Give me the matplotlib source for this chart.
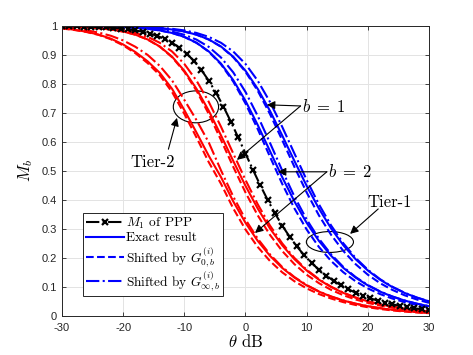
import numpy as np
import matplotlib
matplotlib.use('Agg')
import matplotlib.pyplot as plt
from matplotlib.patches import Ellipse

plt.rcParams['mathtext.fontset'] = 'cm'
plt.rcParams['font.family'] = ['Liberation Sans', 'DejaVu Sans']

# M_1 of PPP (black, markers every 1.2 dB)
theta_ppp = np.linspace(-30, 30, 51)
m1_ppp = [0.9990, 0.9987, 0.9983, 0.9977, 0.9970, 0.9960, 0.9948, 0.9931, 0.9910, 0.9882,
          0.9845, 0.9797, 0.9734, 0.9654, 0.9550, 0.9418, 0.9251, 0.9043, 0.8786, 0.8477,
          0.8111, 0.7690, 0.7217, 0.6701, 0.6157, 0.5601, 0.5048, 0.4514, 0.4010, 0.3543,
          0.3118, 0.2736, 0.2395, 0.2093, 0.1827, 0.1594, 0.1390, 0.1211, 0.1056, 0.0920,
          0.0801, 0.0698, 0.0608, 0.0529, 0.0461, 0.0402, 0.0350, 0.0305, 0.0265, 0.0231,
          0.0201]

# tier curves, every 2 dB
theta = np.arange(-30, 31, 2)

# Tier-1 (blue), b=1
t1b1_exact = [0.9998, 0.9997, 0.9995, 0.9993, 0.9988, 0.9981, 0.9969, 0.9950, 0.9922, 0.9876,
              0.9807, 0.9698, 0.9534, 0.9290, 0.8938, 0.8455, 0.7829, 0.7073, 0.6224, 0.5343,
              0.4487, 0.3704, 0.3018, 0.2437, 0.1957, 0.1567, 0.1250, 0.0997, 0.0794, 0.0631,
              0.0503]
t1b1_g0 = [0.9998, 0.9997, 0.9995, 0.9992, 0.9987, 0.9980, 0.9968, 0.9950, 0.9921, 0.9876,
           0.9806, 0.9697, 0.9530, 0.9282, 0.8921, 0.8420, 0.7764, 0.6963, 0.6065, 0.5140,
           0.4258, 0.3469, 0.2796, 0.2239, 0.1786, 0.1422, 0.1131, 0.0899, 0.0714, 0.0567,
           0.0451]
t1b1_ginf = [0.9998, 0.9997, 0.9996, 0.9994, 0.9990, 0.9984, 0.9975, 0.9960, 0.9937, 0.9901,
             0.9845, 0.9757, 0.9622, 0.9418, 0.9117, 0.8690, 0.8111, 0.7380, 0.6522, 0.5601,
             0.4690, 0.3850, 0.3118, 0.2503, 0.2000, 0.1594, 0.1268, 0.1008, 0.0801, 0.0636,
             0.0506]

# Tier-1 (blue), b=2
t1b2_exact = [0.9996, 0.9994, 0.9990, 0.9984, 0.9975, 0.9960, 0.9937, 0.9901, 0.9844, 0.9757,
              0.9622, 0.9419, 0.9121, 0.8700, 0.8132, 0.7417, 0.6584, 0.5684, 0.4786, 0.3949,
              0.3212, 0.2588, 0.2074, 0.1657, 0.1322, 0.1054, 0.0839, 0.0668, 0.0531, 0.0422,
              0.0336]
t1b2_g0 = [0.9996, 0.9994, 0.9990, 0.9984, 0.9975, 0.9960, 0.9937, 0.9901, 0.9844, 0.9756,
           0.9620, 0.9414, 0.9109, 0.8674, 0.8081, 0.7327, 0.6443, 0.5491, 0.4556, 0.3708,
           0.2980, 0.2379, 0.1894, 0.1505, 0.1196, 0.0950, 0.0755, 0.0600, 0.0476, 0.0378,
           0.0300]
t1b2_ginf = [0.9997, 0.9995, 0.9992, 0.9987, 0.9980, 0.9968, 0.9950, 0.9921, 0.9876, 0.9805,
             0.9695, 0.9527, 0.9276, 0.8910, 0.8398, 0.7724, 0.6897, 0.5970, 0.5017, 0.4118,
             0.3327, 0.2664, 0.2123, 0.1688, 0.1342, 0.1066, 0.0847, 0.0673, 0.0534, 0.0424,
             0.0337]

# Tier-2 (red), b=1
t2b1_exact = [0.9981, 0.9969, 0.9950, 0.9922, 0.9876, 0.9807, 0.9698, 0.9534, 0.9290, 0.8938,
              0.8455, 0.7829, 0.7073, 0.6224, 0.5343, 0.4487, 0.3704, 0.3018, 0.2437, 0.1957,
              0.1567, 0.1250, 0.0997, 0.0794, 0.0631, 0.0503, 0.0400, 0.0318, 0.0252, 0.0201,
              0.0160]
t2b1_g0 = [0.9980, 0.9968, 0.9950, 0.9921, 0.9876, 0.9806, 0.9697, 0.9530, 0.9282, 0.8921,
           0.8420, 0.7764, 0.6963, 0.6065, 0.5140, 0.4258, 0.3469, 0.2796, 0.2239, 0.1786,
           0.1422, 0.1131, 0.0899, 0.0714, 0.0567, 0.0451, 0.0358, 0.0284, 0.0226, 0.0179,
           0.0143]
t2b1_ginf = [0.9984, 0.9975, 0.9960, 0.9937, 0.9901, 0.9845, 0.9757, 0.9622, 0.9418, 0.9117,
             0.8690, 0.8111, 0.7380, 0.6522, 0.5601, 0.4690, 0.3850, 0.3118, 0.2503, 0.2000,
             0.1594, 0.1268, 0.1008, 0.0801, 0.0636, 0.0506, 0.0402, 0.0319, 0.0253, 0.0201,
             0.0160]

# Tier-2 (red), b=2
t2b2_exact = [0.9920, 0.9870, 0.9800, 0.9700, 0.9560, 0.9360, 0.9100, 0.8780, 0.8380, 0.7830,
              0.7100, 0.6320, 0.5520, 0.4786, 0.3949, 0.3212, 0.2588, 0.2074, 0.1657, 0.1322,
              0.1054, 0.0839, 0.0668, 0.0531, 0.0422, 0.0336, 0.0267, 0.0213, 0.0169, 0.0134,
              0.0107]
t2b2_g0 = [0.9910, 0.9860, 0.9790, 0.9690, 0.9540, 0.9330, 0.9060, 0.8720, 0.8300, 0.7720,
           0.6970, 0.6150, 0.5300, 0.4556, 0.3708, 0.2980, 0.2379, 0.1894, 0.1505, 0.1196,
           0.0950, 0.0755, 0.0600, 0.0476, 0.0378, 0.0300, 0.0239, 0.0190, 0.0151, 0.0120,
           0.0096]
t2b2_ginf = [0.9940, 0.9900, 0.9850, 0.9770, 0.9660, 0.9500, 0.9280, 0.9000, 0.8620, 0.8120,
             0.7450, 0.6750, 0.5980, 0.5017, 0.4118, 0.3327, 0.2664, 0.2123, 0.1688, 0.1342,
             0.1066, 0.0847, 0.0673, 0.0534, 0.0424, 0.0337, 0.0268, 0.0213, 0.0169, 0.0134,
             0.0107]

legend_labels = [r'$M_1$ of PPP', 'Exact result',
                 r'Shifted by $G^{(i)}_{0,b}$', r'Shifted by $G^{(i)}_{\infty,b}$']

fig = plt.figure(figsize=(4.73, 3.55), dpi=100)
ax = fig.add_axes([0.131, 0.110, 0.776, 0.817])

lw = 1.5
groups = [('blue', t1b1_exact, t1b1_g0, t1b1_ginf),
          ('blue', t1b2_exact, t1b2_g0, t1b2_ginf),
          ('red', t2b1_exact, t2b1_g0, t2b1_ginf),
          ('red', t2b2_exact, t2b2_g0, t2b2_ginf)]
for color, ex, g0, ginf in groups:
    ax.plot(theta, ex, '-', color=color, lw=lw)
    ax.plot(theta, g0, '--', color=color, lw=lw)
    ax.plot(theta, ginf, '-.', color=color, lw=lw)

ax.plot(theta_ppp, m1_ppp, '-.', color='k', lw=lw, marker='x', ms=5, mew=1.6)

ax.set_xlim(-30, 30)
ax.set_ylim(0, 1)
ax.set_xticks(np.arange(-30, 31, 10))
ax.set_yticks(np.arange(0, 1.01, 0.1))
ax.set_xticklabels(['-30', '-20', '-10', '0', '10', '20', '30'])
ax.set_yticklabels(['0', '0.1', '0.2', '0.3', '0.4', '0.5', '0.6', '0.7', '0.8', '0.9', '1'])
ax.tick_params(direction='in', top=True, right=True, labelsize=8, length=3, width=0.6,
               colors='#262626')
ax.tick_params(axis='x', pad=5)
ax.grid(True, color='#e3e3e3', lw=0.7)
ax.set_axisbelow(True)
for sp in ax.spines.values():
    sp.set_color('#262626')
    sp.set_linewidth(0.7)

ax.set_xlabel(r'$\theta$ dB', family='cmr10', fontsize=12, labelpad=0)
ax.set_ylabel(r'$M_b$', fontsize=12, labelpad=5)

# legend
h = [plt.Line2D([], [], ls='-.', color='k', lw=lw, marker='x', ms=5, mew=1.6),
     plt.Line2D([], [], ls='-', color='blue', lw=lw),
     plt.Line2D([], [], ls='--', color='blue', lw=lw),
     plt.Line2D([], [], ls='-.', color='blue', lw=lw)]
leg = ax.legend(h, legend_labels, loc='lower left', bbox_to_anchor=(0.057, 0.069),
                borderaxespad=0, fancybox=False, framealpha=1, edgecolor='#262626',
                prop={'family': 'cmr10', 'size': 9.6}, handlelength=2.9,
                handletextpad=0.15, labelspacing=0.05, borderpad=0.2)
leg.get_frame().set_linewidth(0.7)

# annotations
ax.add_patch(Ellipse((-8.1, 0.721), 7.4, 0.11, fill=False, color='k', lw=0.8))
ax.add_patch(Ellipse((13.8, 0.255), 7.7, 0.072, fill=False, color='k', lw=0.8))

arrow = dict(arrowstyle='-|>', color='k', lw=0.8, mutation_scale=12, shrinkA=0, shrinkB=0)
ax.annotate('', xy=(-11.2, 0.683), xytext=(-12.6, 0.575), arrowprops=arrow)
ax.text(-15.1, 0.531, 'Tier-2', family='cmr10', fontsize=12, ha='center', va='center')
ax.annotate('', xy=(17.1, 0.283), xytext=(21.7, 0.369), arrowprops=arrow)
ax.text(23.6, 0.393, 'Tier-1', family='cmr10', fontsize=12, ha='center', va='center')

ax.annotate('', xy=(3.5, 0.728), xytext=(9.0, 0.724), arrowprops=arrow)
ax.annotate('', xy=(-1.4, 0.538), xytext=(9.0, 0.724), arrowprops=arrow)
ax.text(9.3, 0.722, r'$b\;=\;1$', fontsize=12, ha='left', va='center')
ax.annotate('', xy=(5.3, 0.497), xytext=(13.3, 0.497), arrowprops=arrow)
ax.annotate('', xy=(1.55, 0.286), xytext=(13.3, 0.497), arrowprops=arrow)
ax.text(13.5, 0.497, r'$b\;=\;2$', fontsize=12, ha='left', va='center')

fig.savefig('out.png', dpi=100)
